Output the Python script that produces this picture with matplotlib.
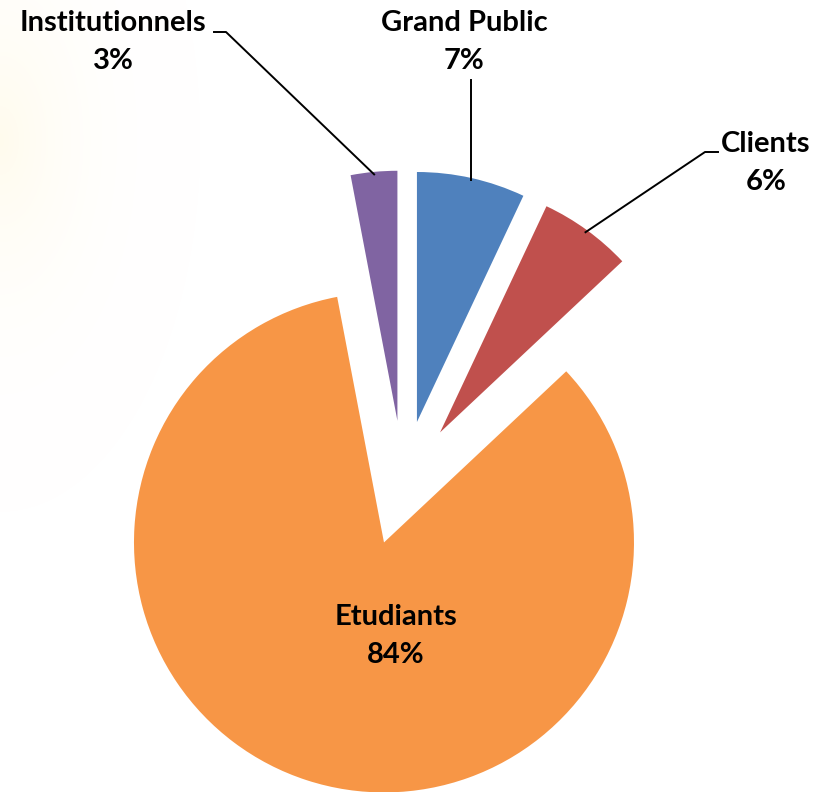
import numpy as np
import matplotlib
matplotlib.use("Agg")
import matplotlib.pyplot as plt

plt.rcParams['font.family'] = ['Lato', 'DejaVu Sans']

labels = ["Grand Public", "Clients", "Etudiants", "Institutionnels"]
shares = [7, 6, 84, 3]
colors = ["#4F81BD", "#C0504D", "#F79646", "#8064A2"]

W, H = 814, 792
CX, CY, R = 403.3, 483.0, 250.0   # pie centre / radius in pixels


def px(x, y):
    # pixel position -> data coords
    return (x - CX) / R, (CY - y) / R


fig = plt.figure(figsize=(W / 100, H / 100), dpi=100)

# faint warm glow along the top-left edge
bg = fig.add_axes([0, 0, 1, 1], zorder=-1)
yy, xx = np.mgrid[0:H, 0:W]
dist = np.hypot(xx * 1.3, (yy - 140) * 0.7)
glow = np.clip(1 - dist / 260, 0, 1) ** 2.5
img = np.ones((H, W, 3))
img[..., 2] -= 0.07 * glow
img[..., 1] -= 0.015 * glow
bg.imshow(img, extent=(0, W, H, 0), aspect='auto')
bg.axis('off')

ax = fig.add_axes([0, 0, 1, 1])
ax.patch.set_alpha(0)
explode = [0.25] * len(shares)
wedges, _ = ax.pie(shares, colors=colors, startangle=90, counterclock=False,
                   explode=explode, radius=1,
                   wedgeprops=dict(linewidth=0))
ax.set_xlim(-CX / R, (W - CX) / R)
ax.set_ylim((CY - H) / R, CY / R)
ax.axis('off')

fs = 21
txt = dict(fontsize=fs, fontweight='bold', ha='center', va='center',
           linespacing=1.6, color='black')

# text boxes (pixel centres) and leader-line elbow points
label_pos = {"Grand Public": (464, 42), "Clients": (766, 163),
             "Etudiants": (396, 636), "Institutionnels": (113, 42)}
elbows = {"Grand Public": [(467.7, 80)],
          "Clients": [(718, 152), (705, 152)],
          "Institutionnels": [(214, 32), (226, 32)]}

for w, lab, val in zip(wedges, labels, shares):
    x, y = px(*label_pos[lab])
    ax.text(x, y, f"{lab}\n{val}%", **txt)
    if lab in elbows:
        mid = np.deg2rad((w.theta1 + w.theta2) / 2)
        cx, cy = w.center
        tip = (cx + 0.99 * np.cos(mid), cy + 0.99 * np.sin(mid))
        pts = [px(*p) for p in elbows[lab]] + [tip]
        if lab == "Grand Public":
            pts[0] = (tip[0], pts[0][1])
        ax.plot([p[0] for p in pts], [p[1] for p in pts], color='black', lw=1.4)

fig.savefig("out.png", dpi=100)
